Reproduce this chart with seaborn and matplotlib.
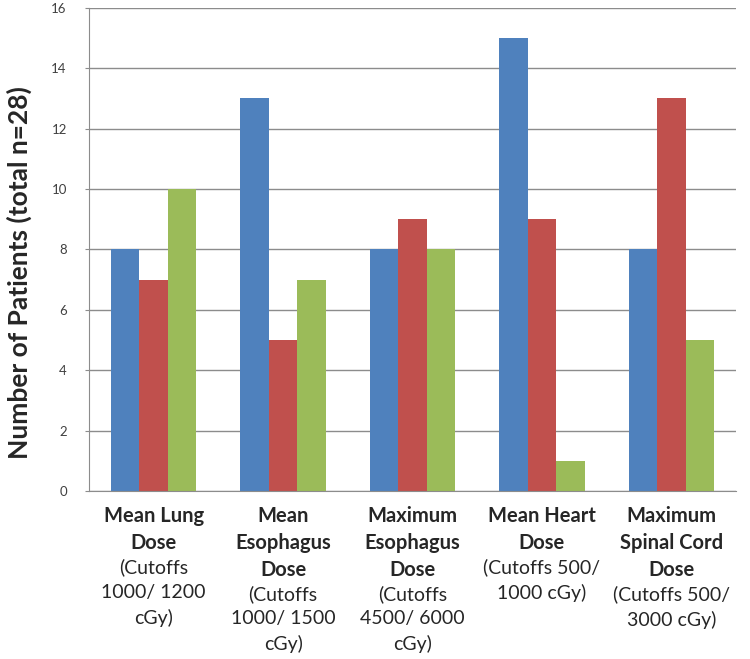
import pandas as pd
import matplotlib.pyplot as plt
import seaborn as sns

# Dose metrics (bold part / cutoff part of each x label)
metrics = ["Mean Lung\nDose", "Mean\nEsophagus\nDose", "Maximum\nEsophagus\nDose",
           "Mean Heart\nDose", "Maximum\nSpinal Cord\nDose"]
cutoffs = ["(Cutoffs\n1000/ 1200\ncGy)", "(Cutoffs\n1000/ 1500\ncGy)",
           "(Cutoffs\n4500/ 6000\ncGy)", "(Cutoffs 500/\n1000 cGy)",
           "(Cutoffs 500/\n3000 cGy)"]

# patients per dose group
below_low = [8, 13, 8, 15, 8]
between = [7, 5, 9, 9, 13]
above_high = [10, 7, 8, 1, 5]

groups = ["Below lower cutoff", "Between cutoffs", "Above upper cutoff"]
colors = ["#4F81BD", "#C0504D", "#9BBB59"]

df = pd.DataFrame({
    "metric": metrics * 3,
    "group": [g for g in groups for _ in metrics],
    "patients": below_low + between + above_high,
})

sns.set_style("white")
plt.rcParams["font.family"] = ["Lato", "DejaVu Sans"]

fig = plt.figure(figsize=(7.5, 6.59), dpi=100)
ax = fig.add_axes([0.1187, 0.255, 0.8627, 0.733])

sns.barplot(data=df, x="metric", y="patients", hue="group", order=metrics,
            hue_order=groups, palette=colors, width=0.66, saturation=1,
            linewidth=0, legend=False, ax=ax)

ax.set_ylim(0, 16)
ax.set_yticks(range(0, 17, 2))
ax.set_xlim(-0.5, len(metrics) - 0.5)
ax.yaxis.grid(True, color="#8c8c8c", linewidth=1)
ax.set_axisbelow(True)
for s in ["top", "right"]:
    ax.spines[s].set_visible(False)
for s in ["left", "bottom"]:
    ax.spines[s].set_color("#8c8c8c")
ax.tick_params(axis="y", length=3, color="#8c8c8c", labelsize=9.5,
               labelcolor="#404040", left=True, pad=13)
ax.tick_params(axis="x", length=0)
ax.set_xticklabels([])
ax.set_xlabel("")
ax.set_ylabel("Number of Patients (total n=28)", fontsize=19, fontweight="bold")
ax.yaxis.set_label_coords(-0.088, 0.453)

# two-part x labels: bold metric name, regular cutoffs below
trans = ax.get_xaxis_transform()
for i in range(len(metrics)):
    t = ax.text(i, -0.032, metrics[i], transform=trans, ha="center", va="top",
                fontsize=14.5, fontweight="bold", linespacing=1.41)
    ax.annotate(cutoffs[i], xy=(0.5, 0), xycoords=t, xytext=(0, -4),
                textcoords="offset points", ha="center", va="top",
                fontsize=14, linespacing=1.52)

fig.savefig("out.png", dpi=100)
